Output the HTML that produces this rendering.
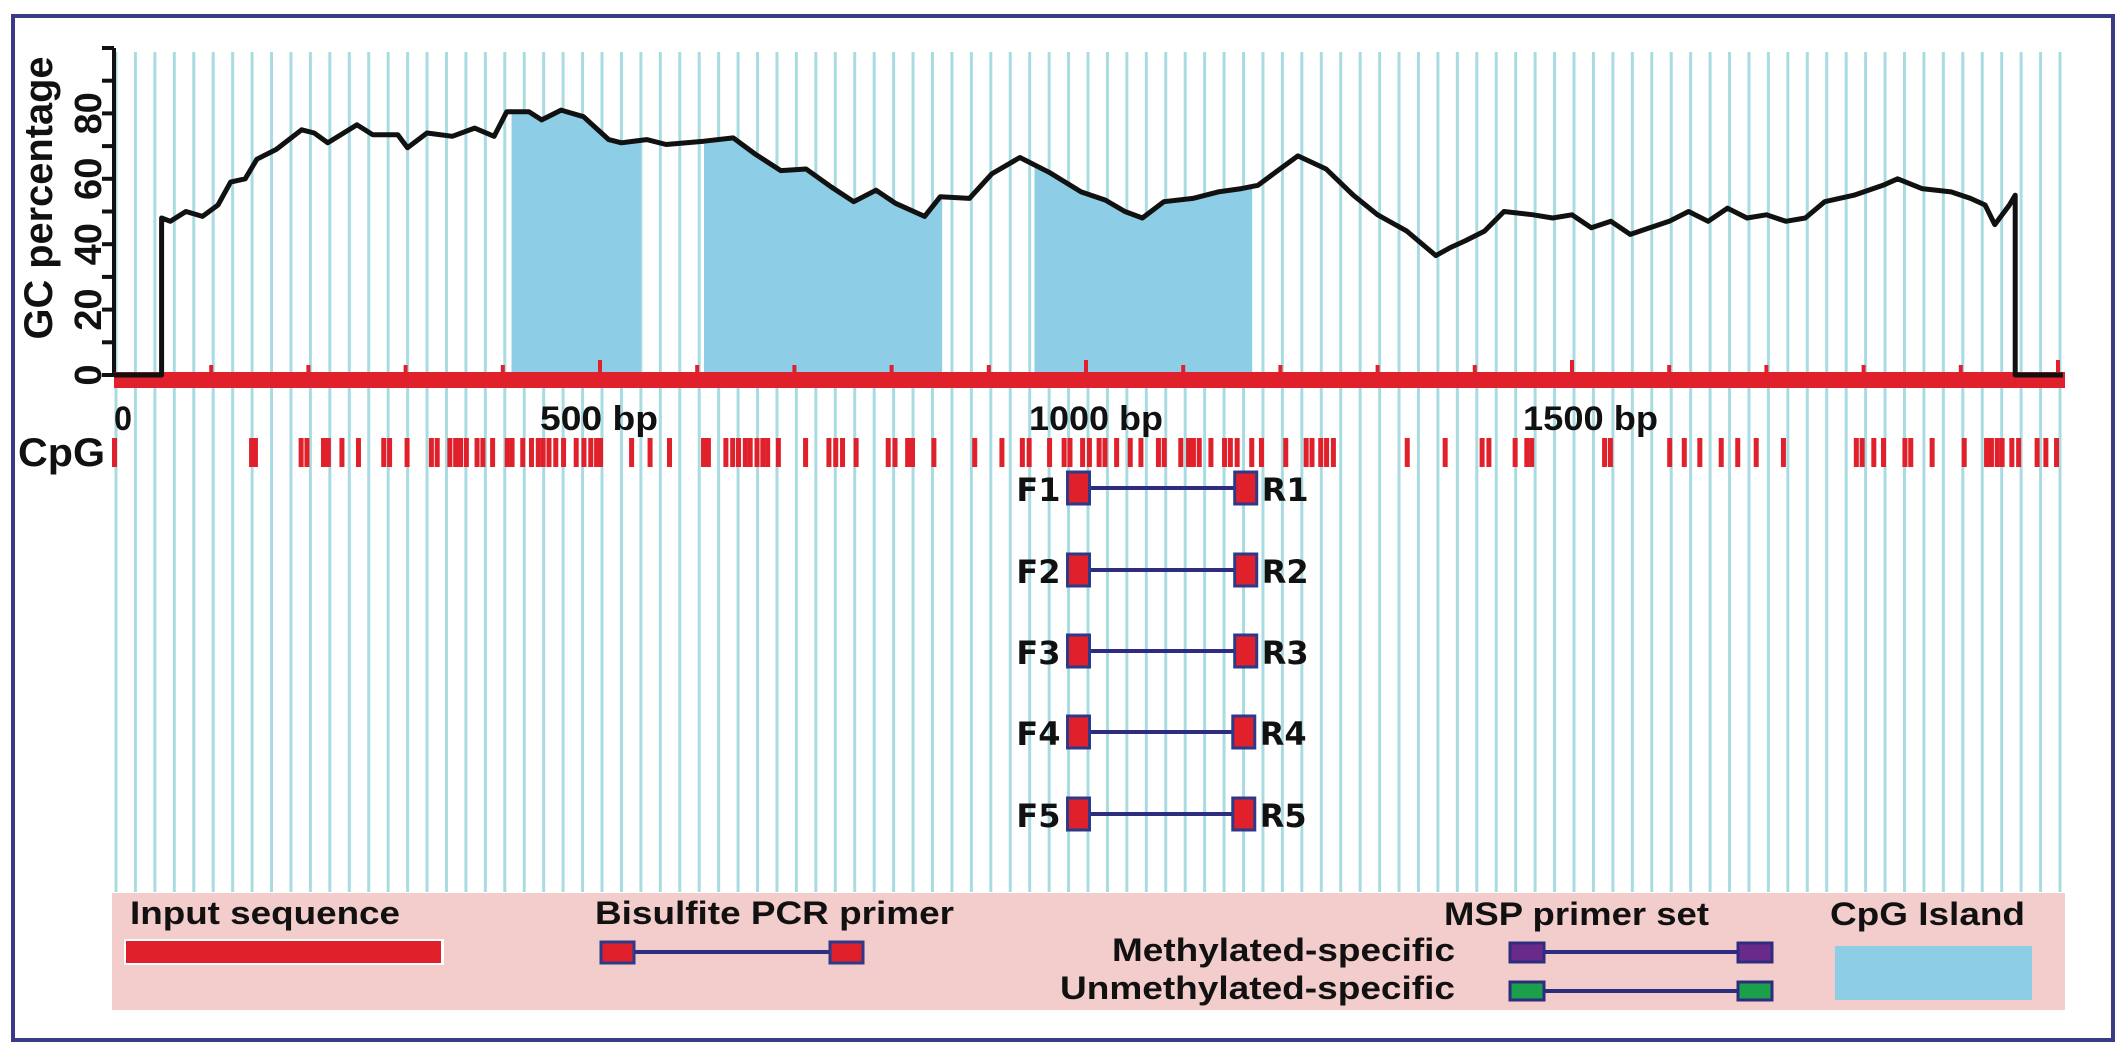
<!DOCTYPE html>
<html><head><meta charset="utf-8"><style>
html,body{margin:0;padding:0;background:#fff}
svg{display:block}
text{font-family:"Liberation Sans Narrow","Liberation Sans",sans-serif;font-weight:bold;fill:#111}
.mono{font-family:"DejaVu Sans","Liberation Sans",sans-serif}
</style></head><body>
<svg id="chart" width="2126" height="1055" viewBox="0 0 2126 1055" xmlns="http://www.w3.org/2000/svg">
<rect x="13" y="16" width="2100" height="1024" fill="#fff" stroke="#3a3a85" stroke-width="4"/>
<g id="grid"></g>
<g id="islands"></g>
<g id="axis"></g>
<g id="band"></g>
<g id="curve"></g>
<g id="cpg"></g>
<g id="primers"></g>
<text x="39" y="198" transform="rotate(-90 39 198)" text-anchor="middle" dominant-baseline="central" font-size="40" textLength="283" lengthAdjust="spacingAndGlyphs">GC percentage</text>
<text x="18" y="466" font-size="40" textLength="87" lengthAdjust="spacingAndGlyphs" style="font-family:'Liberation Sans',sans-serif">CpG</text>
<g>
<rect x="112" y="893" width="1953" height="117" fill="#f3cccc"/>
<text x="130" y="924" font-size="32" textLength="270" lengthAdjust="spacingAndGlyphs">Input sequence</text>
<rect x="124" y="939" width="320" height="26" fill="#fff"/>
<rect x="126" y="941" width="315" height="22" fill="#e0202a"/>
<text x="595" y="924" font-size="32" textLength="359" lengthAdjust="spacingAndGlyphs">Bisulfite PCR primer</text>
<line x1="632" y1="952" x2="830" y2="952" stroke="#2d2d80" stroke-width="4"/>
<rect x="601" y="942" width="33" height="21" fill="#e0202a" stroke="#2d3a8a" stroke-width="3"/>
<rect x="830" y="942" width="33" height="21" fill="#e0202a" stroke="#2d3a8a" stroke-width="3"/>
<text x="1444" y="925" font-size="32" textLength="265" lengthAdjust="spacingAndGlyphs">MSP primer set</text>
<text x="1455" y="961" text-anchor="end" font-size="32" textLength="343" lengthAdjust="spacingAndGlyphs">Methylated-specific</text>
<text x="1455" y="999" text-anchor="end" font-size="32" textLength="395" lengthAdjust="spacingAndGlyphs">Unmethylated-specific</text>
<line x1="1540" y1="952" x2="1740" y2="952" stroke="#2d2d80" stroke-width="4"/>
<rect x="1510" y="943" width="34" height="19" fill="#6a2a8a" stroke="#2d2d80" stroke-width="3"/>
<rect x="1738" y="943" width="34" height="19" fill="#6a2a8a" stroke="#2d2d80" stroke-width="3"/>
<line x1="1540" y1="991" x2="1740" y2="991" stroke="#2d2d80" stroke-width="4"/>
<rect x="1510" y="982" width="34" height="18" fill="#1aa04a" stroke="#2d2d80" stroke-width="3"/>
<rect x="1738" y="982" width="34" height="18" fill="#1aa04a" stroke="#2d2d80" stroke-width="3"/>
<text x="1830" y="925" font-size="32" textLength="195" lengthAdjust="spacingAndGlyphs">CpG Island</text>
<rect x="1835" y="946" width="197" height="54" fill="#8dcde6"/>
</g>
</svg>
<script>
const gcBp = [0,49,49,58,74,91,107,120,135,147,167,193,206,220,250,266,292,302,322,348,371,391,404,427,440,460,483,509,522,548,568,607,637,660,686,712,738,761,784,804,834,850,880,903,932,962,995,1020,1040,1058,1080,1110,1136,1160,1177,1195,1218,1247,1275,1300,1330,1360,1375,1390,1410,1430,1460,1480,1500,1520,1540,1560,1580,1600,1620,1640,1660,1680,1700,1720,1740,1760,1790,1820,1835,1860,1890,1910,1925,1935,1950,1956,1956,2005];
const gcPct = [0,0,48,47,50,48.5,52,59,60,66,69,75,74,71,76.5,73.5,73.5,69.5,74,73,75.5,73,80.5,80.5,78,81,79,72,71,72,70.5,71.5,72.5,67.5,62.5,63,57.5,53,56.5,52.5,48.5,54.5,54,61.5,66.5,62,56,53.5,50,48,53,54,56,57,58,62,67,63,55,49,44,36.5,39,41,44,50,49,48,49,45,47,43,45,47,50,47,51,48,49,47,48,53,55,58,60,57,56,54,52,46,52,55,0,0];
const islandStart = [409,607,947];
const islandEnd = [542,852,1171];
const cpgSites = [0,141,145,192,198,215,220,234,251,277,283,301,326,332,345,351,356,362,373,379,389,404,409,420,429,436,441,447,454,462,475,483,490,496,500,532,551,571,606,611,629,636,642,649,654,661,667,672,683,711,735,742,749,763,796,803,816,821,843,885,913,934,941,962,977,983,996,1003,1013,1019,1031,1045,1056,1074,1080,1097,1105,1110,1116,1128,1142,1148,1155,1170,1180,1205,1226,1232,1241,1247,1254,1330,1369,1407,1414,1441,1453,1458,1533,1539,1600,1615,1631,1653,1670,1689,1717,1792,1798,1810,1820,1842,1848,1870,1903,1926,1931,1937,1942,1952,1959,1978,1987,1998];
const primerNames = ["1","2","3","4","5"];
const primerF = [982,982,982,982,982];
const primerR = [1153,1153,1153,1151,1151];
const yTicks = [0,10,20,30,40,50,60,70,80,90,100];
const yTickLabels = ["0","20","40","60","80"];
const yTickLabelVals = [0,20,40,60,80];
const bpLabels = ["0","500  bp","1000  bp","1500  bp"];
const bpLabelVals = [0,500,1000,1500];
const bpLabelWidths = [18,118,134,135];

const NS="http://www.w3.org/2000/svg";
const X = bp => 114 + 0.972*bp;
const Y = p => 375 - 3.27*p;
function mk(tag, attrs, parent){const e=document.createElementNS(NS,tag);for(const k in attrs)e.setAttribute(k,attrs[k]);parent.appendChild(e);return e;}
const $=id=>document.getElementById(id);

for(let bp=0; X(bp)<=2066; bp+=20){
  const l=mk('line',{x1:X(bp)+2,x2:X(bp)+2,y1:52,y2:892,stroke:'#a9dce2','stroke-width':3},$('grid'));
  
  
}
function gcAt(bp){for(let i=1;i<gcBp.length;i++){if(gcBp[i]>=bp&&gcBp[i]>gcBp[i-1]){const t=(bp-gcBp[i-1])/(gcBp[i]-gcBp[i-1]);if(t>=0&&t<=1)return gcPct[i-1]+t*(gcPct[i]-gcPct[i-1]);}}return 0;}
islandStart.forEach((s,k)=>{
  const e=islandEnd[k];
  let pts=[[X(s),Y(0)],[X(s),Y(gcAt(s))]];
  gcBp.forEach((b,i)=>{if(b>s&&b<e)pts.push([X(b),Y(gcPct[i])]);});
  pts.push([X(e),Y(gcAt(e))],[X(e),Y(0)]);
  const p=mk('polygon',{points:pts.map(q=>q.join(',')).join(' '),fill:'#8dcde6'},$('islands'));
  
  
});
const ax=$('axis');
const al=mk('line',{x1:114,x2:114,y1:Y(100),y2:Y(0),stroke:'#111','stroke-width':4},ax);


yTicks.forEach(v=>{
  const t=mk('line',{x1:102,x2:114,y1:Y(v),y2:Y(v),stroke:'#111','stroke-width':4},ax);
  
  
});
yTickLabels.forEach((s,i)=>{
  const y=Y(yTickLabelVals[i]);
  const t=mk('text',{x:89,y:y,transform:`rotate(-90 89 ${y})`,'text-anchor':'middle','dominant-baseline':'central','font-size':38},ax);
  t.textContent=s;
  
  
});
const band=$('band');
const rb=mk('rect',{x:114,y:372,width:1951,height:16,fill:'#e0202a'},band);


for(let bp=100; X(bp)<2060; bp+=100){
  const h=bp%500===0?12:7;
  const t=mk('line',{x1:X(bp),x2:X(bp),y1:372-h,y2:373,stroke:'#e0202a','stroke-width':4},band);
  
  
}
bpLabels.forEach((s,i)=>{
  const x0=[114,540,1029,1523][i];
  const t=mk('text',{x:x0,y:430,'font-size':34,textLength:bpLabelWidths[i],lengthAdjust:'spacingAndGlyphs','xml:space':'preserve'},band);
  t.textContent=s;
  
  
});
const path='M'+gcBp.map((b,i)=>X(b).toFixed(1)+','+Y(gcPct[i]).toFixed(1)).join(' L');
const cv=mk('path',{d:path,fill:'none',stroke:'#111','stroke-width':5,'stroke-linejoin':'round'},$('curve'));


cpgSites.forEach(b=>{
  const r=mk('rect',{x:X(b)-2,y:438,width:5,height:29,fill:'#e0202a'},$('cpg'));
  
  
});
const rowY=[488,570,651,732,814];
primerNames.forEach((n,i)=>{
  const g=mk('g',{},$('primers'));
  
  
  const y=rowY[i], xf=X(primerF[i]), xr=X(primerR[i]);
  mk('line',{x1:xf+20,x2:xr,y1:y,y2:y,stroke:'#2d2d80','stroke-width':4},g);
  const f=mk('rect',{x:xf-1,y:y-16,width:22,height:32,fill:'#e0202a',stroke:'#2d3a8a','stroke-width':3},g);
  
  
  const r=mk('rect',{x:xr,y:y-16,width:22,height:32,fill:'#e0202a',stroke:'#2d3a8a','stroke-width':3},g);
  
  
  const fl=mk('text',{x:xf-8,y:y+13,'text-anchor':'end','font-size':32,'class':'mono'},g);
  fl.textContent='F'+n;
  
  
  const rl=mk('text',{x:xr+27,y:y+13,'font-size':32,'class':'mono'},g);
  rl.textContent='R'+n;
  
  
});
</script>
</body></html>
